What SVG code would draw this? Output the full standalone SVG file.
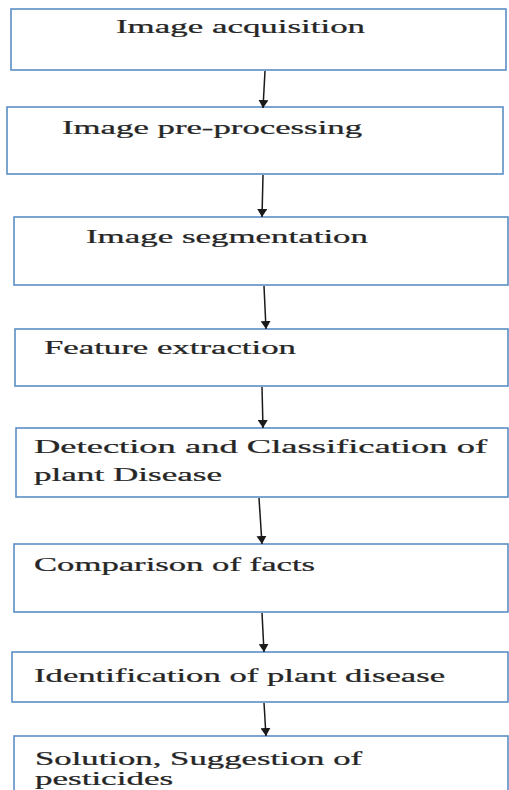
<svg xmlns="http://www.w3.org/2000/svg" width="509" height="790" viewBox="0 0 509 790">
<defs>
<style>
.box{fill:#ffffff;stroke:#5b8ec6;stroke-width:1.6}
.lbl{font-family:"Liberation Serif","Times New Roman",serif;font-size:19px;fill:#262626;stroke:#262626;stroke-width:0.25}
.conn{stroke:#1a1a1a;stroke-width:1.5;fill:none;marker-end:url(#ah)}
</style>
<marker id="ah" markerUnits="userSpaceOnUse" markerWidth="10" markerHeight="10" refX="8" refY="5" orient="auto">
<path d="M0,0 L8,5 L0,10 Z" fill="#1a1a1a"/>
</marker>
</defs>
<rect width="509" height="790" fill="#ffffff"/>
<g id="n1"><rect class="box" x="11" y="9" width="495" height="61"/><text class="lbl" transform="translate(116,33) scale(1.7,1)" textLength="146.5" lengthAdjust="spacingAndGlyphs">Image acquisition</text></g>
<g id="n2"><rect class="box" x="7" y="107" width="496" height="67"/><text class="lbl" transform="translate(62,134) scale(1.7,1)" textLength="176.5" lengthAdjust="spacingAndGlyphs">Image pre-processing</text></g>
<g id="n3"><rect class="box" x="14" y="217" width="494" height="68"/><text class="lbl" transform="translate(86,243) scale(1.7,1)" textLength="165.9" lengthAdjust="spacingAndGlyphs">Image segmentation</text></g>
<g id="n4"><rect class="box" x="15" y="329" width="493" height="57"/><text class="lbl" transform="translate(44,354) scale(1.7,1)" textLength="148.2" lengthAdjust="spacingAndGlyphs">Feature extraction</text></g>
<g id="n5"><rect class="box" x="16" y="428" width="492" height="69"/><text class="lbl" transform="translate(34,453) scale(1.7,1)" textLength="266.5" lengthAdjust="spacingAndGlyphs">Detection and Classification of</text><text class="lbl" transform="translate(34,481) scale(1.7,1)" textLength="110.6" lengthAdjust="spacingAndGlyphs">plant Disease</text></g>
<g id="n6"><rect class="box" x="14" y="544" width="494" height="68"/><text class="lbl" transform="translate(34,571) scale(1.7,1)" textLength="165.3" lengthAdjust="spacingAndGlyphs">Comparison of facts</text></g>
<g id="n7"><rect class="box" x="12" y="652" width="496" height="50"/><text class="lbl" transform="translate(34,682) scale(1.7,1)" textLength="241.8" lengthAdjust="spacingAndGlyphs">Identification of plant disease</text></g>
<g id="n8"><rect class="box" x="14" y="736" width="494" height="60"/><text class="lbl" transform="translate(35,765) scale(1.7,1)" textLength="192.4" lengthAdjust="spacingAndGlyphs">Solution, Suggestion of</text><text class="lbl" transform="translate(35,785) scale(1.7,1)" textLength="81.2" lengthAdjust="spacingAndGlyphs">pesticides</text></g>
<g id="connectors">
<line class="conn" x1="265" y1="71" x2="263" y2="108"/>
<line class="conn" x1="263" y1="175" x2="262" y2="217"/>
<line class="conn" x1="264" y1="286" x2="266" y2="329"/>
<line class="conn" x1="262" y1="387" x2="263" y2="428"/>
<line class="conn" x1="259" y1="498" x2="262" y2="544"/>
<line class="conn" x1="262" y1="613" x2="264" y2="652"/>
<line class="conn" x1="264" y1="703" x2="266" y2="736"/>
</g>
</svg>
